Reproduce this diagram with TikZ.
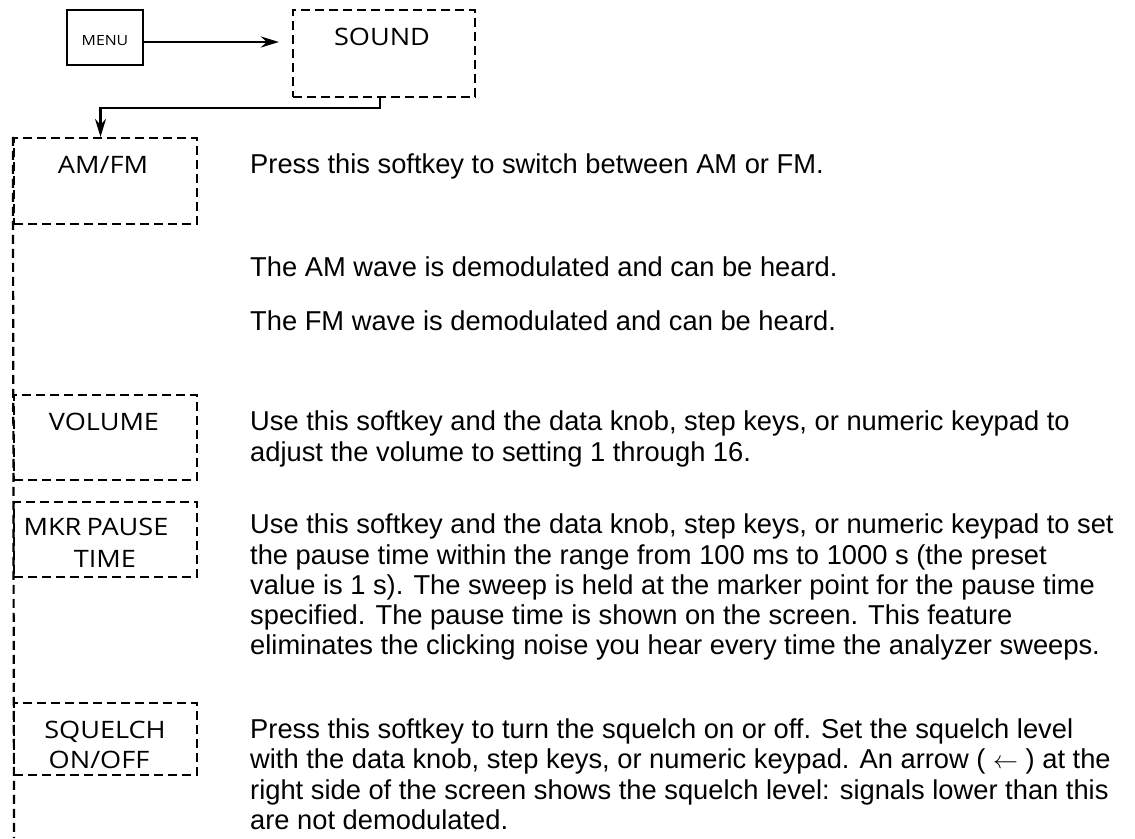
\documentclass[tikz,border=0pt]{standalone}
\usepackage{fontspec}
\setmainfont{Liberation Sans}
\newfontfamily\keyfont[FakeStretch=1.13]{Open Sans}
\usetikzlibrary{arrows.meta}
\begin{document}
\begin{tikzpicture}[x=1pt,y=-1pt,
  dbox/.style={draw, line width=2.2pt, dash pattern=on 9pt off 5pt, inner sep=0pt},
  sbox/.style={draw, line width=2.2pt, inner sep=0pt},
  body/.style={anchor=base west, inner sep=0pt, font=\fontsize{27.3}{31}\selectfont},
  key/.style={anchor=base, inner sep=0pt, font=\keyfont\fontsize{24}{31}\selectfont},
  conn/.style={line width=2.2pt},
  tip/.style={-{Stealth[length=18pt,width=11pt]}}
]
\useasboundingbox (0,0) rectangle (1135,838);
% boxes
\node[sbox, minimum width=76pt, minimum height=55pt] (menu) at (105,37.5) {};
\node[dbox, minimum width=182pt, minimum height=87pt] (sound) at (384,53.5) {};
\node[dbox, minimum width=183pt, minimum height=86pt] (amfm) at (105.5,181) {};
\node[dbox, minimum width=183pt, minimum height=85pt] (volume) at (105.5,437.5) {};
\node[dbox, minimum width=183pt, minimum height=75pt] (mkr) at (105.5,539.5) {};
\node[dbox, minimum width=183pt, minimum height=72pt] (squelch) at (105.5,739) {};
% box labels
\node[key, font=\keyfont\fontsize{14}{15}\selectfont] (menut) at (105,45) {MENU};
\node[key, font=\keyfont\fontsize{24}{31}\selectfont] (soundt) at (382,45) {SOUND};
\node[key] (amfmt) at (103,173) {AM/FM};
\node[key] (volumet) at (104,430) {VOLUME};
\node[key] (mkrt1) at (96,535) {MKR\hspace{-2pt} PAUSE};
\node[key] (mkrt2) at (105,567) {TIME};
\node[key] (squelcht1) at (105,738) {SQUELCH};
\node[key] (squelcht2) at (99,768) {ON/OFF};
% connectors
\draw[conn, tip, shorten >=13pt] ([yshift=-4.5pt]menu.east) -- ([yshift=-4.5pt]menu.east -| sound.west);
\draw[conn, tip] ([xshift=-4pt]sound.south) -- ++(0,10) -| ([xshift=-5pt]amfm.north);
\coordinate (lineend) at (14,838);
\draw[line width=2.2pt, dash pattern=on 9pt off 5pt] (amfm.north west) -- (lineend);
% descriptions
\node[body] (d1) at (250,173) {Press this softkey to switch between AM or FM.};
\node[body] (d2) at (250,276) {The AM wave is demodulated and can be heard.};
\node[body] (d3) at (250,330) {The FM wave is demodulated and can be heard.};
\node[body] (v1) at (250,430) {Use this softkey and the data knob, step keys, or numeric keypad to};
\node[body] (v2) at (250,461) {adjust the volume to setting 1 through 16.};
\node[body] (m1) at (250,533) {Use this softkey and the data knob, step keys, or numeric keypad to set};
\node[body] (m2) at (250,564) {the pause time within the range from 100 ms to 1000 s (the preset};
\node[body] (m3) at (250,594) {value is 1 s). The sweep is held at the marker point for the pause time};
\node[body] (m4) at (250,624) {specified. The pause time is shown on the screen. This feature};
\node[body] (m5) at (250,654) {eliminates the clicking noise you hear every time the analyzer sweeps.};
\node[body] (s1) at (250,738) {Press this softkey to turn the squelch on or off. Set the squelch level};
\node[body] (s2) at (250,768) {with the data knob, step keys, or numeric keypad. An arrow ( $\leftarrow$ ) at the};
\node[body] (s3) at (250,799) {right side of the screen shows the squelch level: signals lower than this};
\node[body] (s4) at (250,829) {are not demodulated.};
\end{tikzpicture}
\end{document}
